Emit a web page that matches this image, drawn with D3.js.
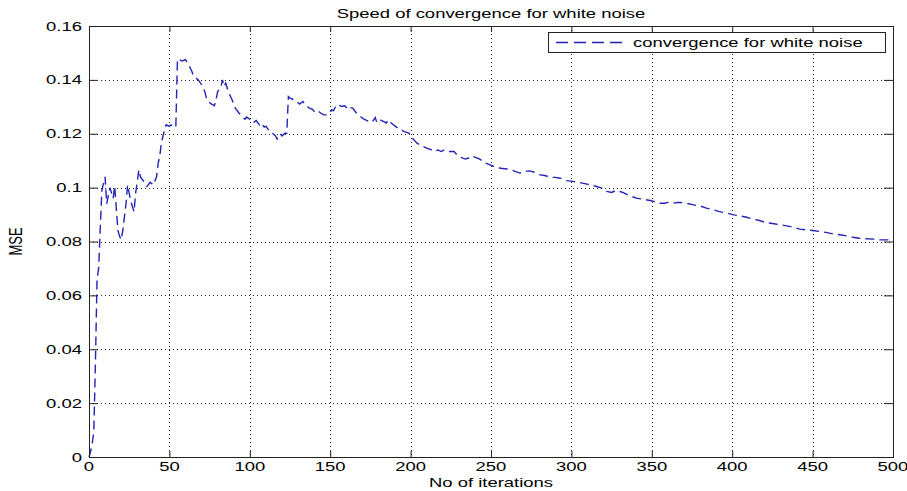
<!DOCTYPE html>
<html>
<head>
<meta charset="utf-8">
<script src="https://cdn.jsdelivr.net/npm/d3@7"></script>
<style>
  html, body { margin: 0; padding: 0; background: #fff; }
  svg { display: block; font-family: "Liberation Sans", Arial, Helvetica, sans-serif; }
</style>
</head>
<body>
<svg id="chart" width="907" height="491"></svg>
<script>
// Mean squared error per iteration of the adaptive filter driven by white noise
const iterations = [
  0, 1, 2, 3, 4, 5, 6, 7, 8, 10, 11, 13, 15, 16, 17, 18, 19, 20, 21, 23,
  24, 25, 26, 28, 29, 30, 31, 32, 34, 36, 38, 40, 42, 43, 44, 45, 47, 48, 50, 51,
  52, 54, 55, 58, 60, 62, 64, 65, 68, 70, 72, 73, 75, 76, 78, 79, 80, 82, 83, 84,
  85, 87, 89, 91, 93, 95, 97, 98, 100, 102, 104, 106, 107, 109, 110, 112, 114, 116, 117, 119,
  120, 122, 123, 124, 125, 128, 131, 133, 135, 137, 139, 140, 142, 144, 146, 148, 150, 151, 152, 154,
  156, 157, 159, 161, 162, 164, 166, 168, 171, 174, 176, 178, 179, 181, 183, 185, 186, 188, 190, 192,
  194, 196, 199, 201, 204, 207, 210, 213, 215, 217, 219, 221, 223, 227, 229, 231, 234, 236, 238, 240,
  243, 246, 249, 252, 256, 260, 262, 265, 268, 271, 274, 277, 280, 284, 287, 290, 293, 297, 301, 305,
  309, 314, 319, 322, 325, 328, 332, 336, 341, 345, 349, 352, 355, 358, 360, 363, 366, 368, 370, 373,
  376, 380, 384, 388, 392, 397, 401, 405, 409, 413, 417, 421, 426, 430, 434, 438, 442, 446, 450, 455,
  459, 463, 467, 471, 475, 479, 484, 488, 492, 497, 500
];
const mse = [
  0.0000, 0.0020, 0.0050, 0.0095, 0.0350, 0.0660, 0.0700, 0.0850, 0.0990, 0.1040, 0.0940, 0.1000, 0.0960, 0.1005, 0.0920, 0.0840, 0.0820, 0.0806, 0.0840, 0.0940,
  0.1010, 0.0980, 0.0950, 0.0910, 0.0980, 0.1020, 0.1066, 0.1040, 0.1023, 0.1004, 0.1020, 0.1010, 0.1040, 0.1090, 0.1116, 0.1166, 0.1215, 0.1233, 0.1227, 0.1233,
  0.1227, 0.1225, 0.1478, 0.1470, 0.1475, 0.1456, 0.1431, 0.1413, 0.1400, 0.1382, 0.1357, 0.1332, 0.1316, 0.1311, 0.1304, 0.1326, 0.1357, 0.1370, 0.1400, 0.1376,
  0.1388, 0.1350, 0.1326, 0.1295, 0.1279, 0.1264, 0.1254, 0.1262, 0.1254, 0.1240, 0.1249, 0.1233, 0.1240, 0.1225, 0.1228, 0.1211, 0.1202, 0.1192, 0.1180, 0.1200,
  0.1192, 0.1202, 0.1202, 0.1338, 0.1332, 0.1325, 0.1310, 0.1320, 0.1305, 0.1295, 0.1291, 0.1283, 0.1288, 0.1277, 0.1270, 0.1270, 0.1280, 0.1289, 0.1285, 0.1308,
  0.1305, 0.1301, 0.1304, 0.1291, 0.1298, 0.1295, 0.1279, 0.1267, 0.1254, 0.1246, 0.1243, 0.1260, 0.1242, 0.1252, 0.1246, 0.1240, 0.1252, 0.1240, 0.1230, 0.1221,
  0.1215, 0.1208, 0.1202, 0.1184, 0.1165, 0.1155, 0.1147, 0.1140, 0.1134, 0.1140, 0.1134, 0.1140, 0.1134, 0.1134, 0.1121, 0.1113, 0.1106, 0.1110, 0.1118, 0.1113,
  0.1106, 0.1093, 0.1085, 0.1078, 0.1072, 0.1069, 0.1067, 0.1060, 0.1054, 0.1060, 0.1062, 0.1057, 0.1048, 0.1044, 0.1038, 0.1038, 0.1035, 0.1026, 0.1023, 0.1019,
  0.1014, 0.1007, 0.0998, 0.0986, 0.0982, 0.0990, 0.0982, 0.0970, 0.0960, 0.0957, 0.0952, 0.0948, 0.0942, 0.0942, 0.0945, 0.0942, 0.0945, 0.0945, 0.0942, 0.0940,
  0.0936, 0.0932, 0.0924, 0.0918, 0.0911, 0.0905, 0.0899, 0.0895, 0.0890, 0.0883, 0.0878, 0.0870, 0.0866, 0.0862, 0.0858, 0.0853, 0.0846, 0.0843, 0.0841, 0.0837,
  0.0833, 0.0828, 0.0825, 0.0821, 0.0816, 0.0812, 0.0810, 0.0809, 0.0806, 0.0806, 0.0802
];
const xTicks = [0, 50, 100, 150, 200, 250, 300, 350, 400, 450, 500];
const yTicks = [0, 0.02, 0.04, 0.06, 0.08, 0.1, 0.12, 0.14, 0.16];
const yTickLabels = ["0", "0.02", "0.04", "0.06", "0.08", "0.1", "0.12", "0.14", "0.16"];
const titleText = "Speed of convergence for white noise";
const xLabelText = "No of iterations";
const yLabelText = "MSE";
const seriesName = "convergence for white noise";

const W = 907, H = 491;
const margin = { left: 89, right: 14, top: 26, bottom: 34 };
const SX = 1.42;           // horizontal stretch of the lettering
const FONT = 13;
const lineColor = "#2323b8";

const svg = d3.select("#chart");
const x = d3.scaleLinear().domain([0, 500]).range([margin.left, W - margin.right]);
const y = d3.scaleLinear().domain([0, 0.16]).range([H - margin.bottom, margin.top]);
const [x0, x1] = x.range();
const [y0, y1] = y.range();

// text helper: positioned group, stretched horizontally
function label(px, py, str, anchor, rotate) {
  const g = svg.append("g")
    .attr("transform", `translate(${px},${py}) scale(${SX},1)` + (rotate ? ` rotate(${rotate})` : ""));
  g.append("text")
    .attr("text-anchor", anchor)
    .attr("font-size", FONT)
    .attr("fill", "#000")
    .text(str);
  return g;
}

// dotted grid
const grid = svg.append("g").attr("stroke", "#222").attr("stroke-width", 1)
  .attr("stroke-dasharray", "1,3").attr("shape-rendering", "crispEdges");
grid.selectAll("line.gx").data(xTicks.slice(1, -1)).join("line")
  .attr("x1", d => Math.round(x(d)) + 0.5).attr("x2", d => Math.round(x(d)) + 0.5)
  .attr("y1", y1).attr("y2", y0);
grid.selectAll("line.gy").data(yTicks.slice(1, -1)).join("line")
  .attr("x1", x0).attr("x2", x1)
  .attr("y1", d => Math.round(y(d)) + 0.5).attr("y2", d => Math.round(y(d)) + 0.5);

// axes with inward ticks on all four sides
const axisStyle = g => {
  g.select(".domain").remove();
  g.selectAll(".tick line").attr("stroke", "#222");
  g.selectAll(".tick text").remove();
};
svg.append("g").attr("transform", `translate(0,${y0})`)
  .call(d3.axisBottom(x).tickValues(xTicks).tickSize(-6)).call(axisStyle);
svg.append("g").attr("transform", `translate(0,${y1})`)
  .call(d3.axisTop(x).tickValues(xTicks).tickSize(-6)).call(axisStyle);
svg.append("g").attr("transform", `translate(${x0},0)`)
  .call(d3.axisLeft(y).tickValues(yTicks).tickSize(-9)).call(axisStyle);
svg.append("g").attr("transform", `translate(${x1},0)`)
  .call(d3.axisRight(y).tickValues(yTicks).tickSize(-9)).call(axisStyle);

// tick labels
xTicks.forEach(t => label(x(t), y0 + 14, String(t), "middle"));
yTicks.forEach((t, i) => label(x0 - 7, y(t) + 4.5, yTickLabels[i], "end"));

// series
const pts = iterations.map((n, i) => [n, mse[i]]);
svg.append("path")
  .datum(pts)
  .attr("fill", "none")
  .attr("stroke", lineColor)
  .attr("stroke-width", 1.4)
  .attr("stroke-dasharray", "9,5")
  .attr("d", d3.line().x(d => x(d[0])).y(d => y(d[1])));

// axes box
svg.append("rect")
  .attr("x", x0 + 0.5).attr("y", y1 + 0.5)
  .attr("width", x1 - x0).attr("height", y0 - y1)
  .attr("fill", "none").attr("stroke", "#222").attr("stroke-width", 1)
  .attr("shape-rendering", "crispEdges");

// legend
const lg = { x: 548, y: 32, w: 337, h: 20 };
svg.append("rect")
  .attr("x", lg.x + 0.5).attr("y", lg.y + 0.5).attr("width", lg.w).attr("height", lg.h)
  .attr("fill", "#fff").attr("stroke", "#222").attr("stroke-width", 1)
  .attr("shape-rendering", "crispEdges");
svg.append("line")
  .attr("x1", lg.x + 8).attr("x2", lg.x + 80)
  .attr("y1", lg.y + lg.h / 2 + 0.5).attr("y2", lg.y + lg.h / 2 + 0.5)
  .attr("stroke", lineColor).attr("stroke-width", 1.4).attr("stroke-dasharray", "12,6");
label(lg.x + 85, lg.y + 15, seriesName, "start");

// titles
label((x0 + x1) / 2, 18, titleText, "middle");
label((x0 + x1) / 2, 487, xLabelText, "middle");
label(22, (y0 + y1) / 2, yLabelText, "middle", -90);
</script>
</body>
</html>
